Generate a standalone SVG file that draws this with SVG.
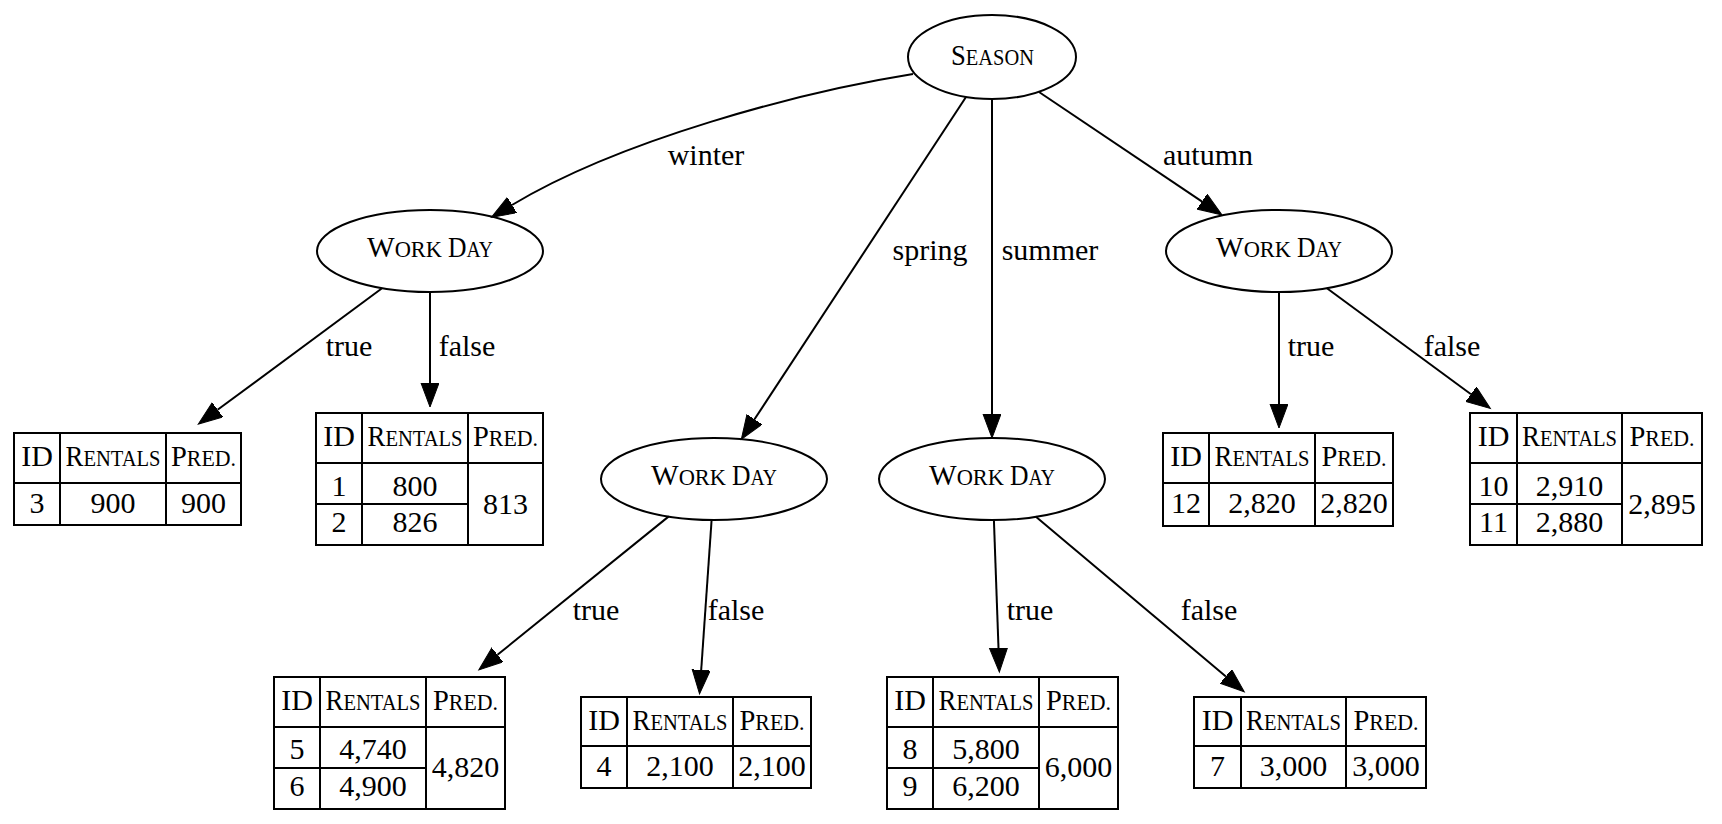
<svg xmlns="http://www.w3.org/2000/svg" width="1722" height="824" viewBox="0 0 1722 824">
<style>
text{font-family:"Liberation Serif","Times New Roman",serif;font-size:30px;fill:#000}
.sc{font-size:23px}
.m{text-anchor:middle}
.node ellipse,.node rect,.node line{fill:none;stroke:#000;stroke-width:2}
.node rect{fill:#fff}
.edge{fill:none;stroke:#000;stroke-width:2}
</style>
<defs>
<marker id="ah" markerUnits="userSpaceOnUse" markerWidth="26" markerHeight="20" refX="0" refY="9" orient="auto">
<path d="M0,0 L24,9 L0,18 z" fill="#000" stroke="#000" stroke-width="1"/>
</marker>
</defs>
<rect width="1722" height="824" fill="#fff"/>

<g id="connectors">
<path class="edge" marker-end="url(#ah)" d="M913,74 C800,92 620,140 512,205"/>
<path class="edge" marker-end="url(#ah)" d="M966,97 L754.5,419.3"/>
<path class="edge" marker-end="url(#ah)" d="M992,99 L992,414"/>
<path class="edge" marker-end="url(#ah)" d="M1039,92 L1202.1,201.6"/>
<path class="edge" marker-end="url(#ah)" d="M381.7,288.5 L217.6,409.8"/>
<path class="edge" marker-end="url(#ah)" d="M430,292 L430,383"/>
<path class="edge" marker-end="url(#ah)" d="M668.8,516.4 L497.5,654.8"/>
<path class="edge" marker-end="url(#ah)" d="M711.6,520 L701.2,670"/>
<path class="edge" marker-end="url(#ah)" d="M993.9,520 L998.5,648"/>
<path class="edge" marker-end="url(#ah)" d="M1035.6,516.5 L1225.9,676.4"/>
<path class="edge" marker-end="url(#ah)" d="M1279,292 L1279,404"/>
<path class="edge" marker-end="url(#ah)" d="M1326.6,288 L1471,394.2"/>
<text class="m" x="706" y="165">winter</text>
<text class="m" x="930" y="260">spring</text>
<text class="m" x="1050" y="260">summer</text>
<text class="m" x="1208" y="165">autumn</text>
<text class="m" x="349" y="356">true</text>
<text class="m" x="467" y="356">false</text>
<text class="m" x="596" y="620">true</text>
<text class="m" x="736" y="620">false</text>
<text class="m" x="1030" y="620">true</text>
<text class="m" x="1209" y="620">false</text>
<text class="m" x="1311" y="356">true</text>
<text class="m" x="1452" y="356">false</text>
</g>

<g id="season" class="node">
<ellipse cx="992" cy="57" rx="84" ry="42"/>
<text class="m" x="992.5" y="65" textLength="83" lengthAdjust="spacingAndGlyphs">S<tspan class="sc">EASON</tspan></text>
</g>

<g id="workday_winter" class="node">
<ellipse cx="430" cy="251" rx="113" ry="41"/>
<text x="367" y="257" textLength="75" lengthAdjust="spacingAndGlyphs">W<tspan class="sc">ORK</tspan></text>
<text x="448" y="257" textLength="45" lengthAdjust="spacingAndGlyphs">D<tspan class="sc">AY</tspan></text>
</g>
<g id="workday_spring" class="node">
<ellipse cx="714" cy="479" rx="113" ry="41"/>
<text x="651" y="485" textLength="75" lengthAdjust="spacingAndGlyphs">W<tspan class="sc">ORK</tspan></text>
<text x="732" y="485" textLength="45" lengthAdjust="spacingAndGlyphs">D<tspan class="sc">AY</tspan></text>
</g>
<g id="workday_summer" class="node">
<ellipse cx="992" cy="479" rx="113" ry="41"/>
<text x="929" y="485" textLength="75" lengthAdjust="spacingAndGlyphs">W<tspan class="sc">ORK</tspan></text>
<text x="1010" y="485" textLength="45" lengthAdjust="spacingAndGlyphs">D<tspan class="sc">AY</tspan></text>
</g>
<g id="workday_autumn" class="node">
<ellipse cx="1279" cy="251" rx="113" ry="41"/>
<text x="1216" y="257" textLength="75" lengthAdjust="spacingAndGlyphs">W<tspan class="sc">ORK</tspan></text>
<text x="1297" y="257" textLength="45" lengthAdjust="spacingAndGlyphs">D<tspan class="sc">AY</tspan></text>
</g>

<!-- T1 -->
<g id="leaf_winter_true" class="node">
<rect x="14" y="433" width="227" height="92"/>
<line x1="14" y1="483" x2="241" y2="483"/>
<line x1="60" y1="433" x2="60" y2="525"/>
<line x1="166" y1="433" x2="166" y2="525"/>
<text class="m" x="37" y="466">ID</text>
<text class="m" x="113" y="466" textLength="95" lengthAdjust="spacingAndGlyphs">R<tspan class="sc">ENTALS</tspan></text>
<text class="m" x="203.5" y="466" textLength="65" lengthAdjust="spacingAndGlyphs">P<tspan class="sc">RED.</tspan></text>
<text class="m" x="37" y="513">3</text>
<text class="m" x="113" y="513">900</text>
<text class="m" x="203.5" y="513">900</text>
</g>

<!-- T2 -->
<g id="leaf_winter_false" class="node">
<rect x="316" y="413" width="227" height="132"/>
<line x1="316" y1="463" x2="543" y2="463"/>
<line x1="316" y1="504" x2="468" y2="504"/>
<line x1="362" y1="413" x2="362" y2="545"/>
<line x1="468" y1="413" x2="468" y2="545"/>
<text class="m" x="339" y="446">ID</text>
<text class="m" x="415" y="446" textLength="95" lengthAdjust="spacingAndGlyphs">R<tspan class="sc">ENTALS</tspan></text>
<text class="m" x="505.5" y="446" textLength="65" lengthAdjust="spacingAndGlyphs">P<tspan class="sc">RED.</tspan></text>
<text class="m" x="339" y="496">1</text>
<text class="m" x="415" y="496">800</text>
<text class="m" x="339" y="532">2</text>
<text class="m" x="415" y="532">826</text>
<text class="m" x="505.5" y="514">813</text>
</g>

<!-- T3 -->
<g id="leaf_spring_true" class="node">
<rect x="274" y="677" width="231" height="132"/>
<line x1="274" y1="727" x2="505" y2="727"/>
<line x1="274" y1="768" x2="426" y2="768"/>
<line x1="320" y1="677" x2="320" y2="809"/>
<line x1="426" y1="677" x2="426" y2="809"/>
<text class="m" x="297" y="710">ID</text>
<text class="m" x="373" y="710" textLength="95" lengthAdjust="spacingAndGlyphs">R<tspan class="sc">ENTALS</tspan></text>
<text class="m" x="465.5" y="710" textLength="65" lengthAdjust="spacingAndGlyphs">P<tspan class="sc">RED.</tspan></text>
<text class="m" x="297" y="759">5</text>
<text class="m" x="373" y="759">4,740</text>
<text class="m" x="297" y="796">6</text>
<text class="m" x="373" y="796">4,900</text>
<text class="m" x="465.5" y="777">4,820</text>
</g>

<!-- T4 -->
<g id="leaf_spring_false" class="node">
<rect x="581" y="697" width="230" height="91"/>
<line x1="581" y1="746" x2="811" y2="746"/>
<line x1="627" y1="697" x2="627" y2="788"/>
<line x1="733" y1="697" x2="733" y2="788"/>
<text class="m" x="604" y="730">ID</text>
<text class="m" x="680" y="730" textLength="95" lengthAdjust="spacingAndGlyphs">R<tspan class="sc">ENTALS</tspan></text>
<text class="m" x="772" y="730" textLength="65" lengthAdjust="spacingAndGlyphs">P<tspan class="sc">RED.</tspan></text>
<text class="m" x="604" y="776">4</text>
<text class="m" x="680" y="776">2,100</text>
<text class="m" x="772" y="776">2,100</text>
</g>

<!-- T5 -->
<g id="leaf_summer_true" class="node">
<rect x="887" y="677" width="231" height="132"/>
<line x1="887" y1="727" x2="1118" y2="727"/>
<line x1="887" y1="768" x2="1039" y2="768"/>
<line x1="933" y1="677" x2="933" y2="809"/>
<line x1="1039" y1="677" x2="1039" y2="809"/>
<text class="m" x="910" y="710">ID</text>
<text class="m" x="986" y="710" textLength="95" lengthAdjust="spacingAndGlyphs">R<tspan class="sc">ENTALS</tspan></text>
<text class="m" x="1078.5" y="710" textLength="65" lengthAdjust="spacingAndGlyphs">P<tspan class="sc">RED.</tspan></text>
<text class="m" x="910" y="759">8</text>
<text class="m" x="986" y="759">5,800</text>
<text class="m" x="910" y="796">9</text>
<text class="m" x="986" y="796">6,200</text>
<text class="m" x="1078.5" y="777">6,000</text>
</g>

<!-- T6 -->
<g id="leaf_summer_false" class="node">
<rect x="1194" y="697" width="232" height="91"/>
<line x1="1194" y1="746" x2="1426" y2="746"/>
<line x1="1241" y1="697" x2="1241" y2="788"/>
<line x1="1346" y1="697" x2="1346" y2="788"/>
<text class="m" x="1217.5" y="730">ID</text>
<text class="m" x="1293.5" y="730" textLength="95" lengthAdjust="spacingAndGlyphs">R<tspan class="sc">ENTALS</tspan></text>
<text class="m" x="1386" y="730" textLength="65" lengthAdjust="spacingAndGlyphs">P<tspan class="sc">RED.</tspan></text>
<text class="m" x="1217.5" y="776">7</text>
<text class="m" x="1293.5" y="776">3,000</text>
<text class="m" x="1386" y="776">3,000</text>
</g>

<!-- T7 -->
<g id="leaf_autumn_true" class="node">
<rect x="1163" y="433" width="230" height="93"/>
<line x1="1163" y1="483" x2="1393" y2="483"/>
<line x1="1209" y1="433" x2="1209" y2="526"/>
<line x1="1315" y1="433" x2="1315" y2="526"/>
<text class="m" x="1186" y="466">ID</text>
<text class="m" x="1262" y="466" textLength="95" lengthAdjust="spacingAndGlyphs">R<tspan class="sc">ENTALS</tspan></text>
<text class="m" x="1354" y="466" textLength="65" lengthAdjust="spacingAndGlyphs">P<tspan class="sc">RED.</tspan></text>
<text class="m" x="1186" y="513">12</text>
<text class="m" x="1262" y="513">2,820</text>
<text class="m" x="1354" y="513">2,820</text>
</g>

<!-- T8 -->
<g id="leaf_autumn_false" class="node">
<rect x="1470" y="413" width="232" height="132"/>
<line x1="1470" y1="463" x2="1702" y2="463"/>
<line x1="1470" y1="504" x2="1622" y2="504"/>
<line x1="1517" y1="413" x2="1517" y2="545"/>
<line x1="1622" y1="413" x2="1622" y2="545"/>
<text class="m" x="1493.5" y="446">ID</text>
<text class="m" x="1569.5" y="446" textLength="95" lengthAdjust="spacingAndGlyphs">R<tspan class="sc">ENTALS</tspan></text>
<text class="m" x="1662" y="446" textLength="65" lengthAdjust="spacingAndGlyphs">P<tspan class="sc">RED.</tspan></text>
<text class="m" x="1493.5" y="496">10</text>
<text class="m" x="1569.5" y="496">2,910</text>
<text class="m" x="1493.5" y="532">11</text>
<text class="m" x="1569.5" y="532">2,880</text>
<text class="m" x="1662" y="514">2,895</text>
</g>
</svg>
